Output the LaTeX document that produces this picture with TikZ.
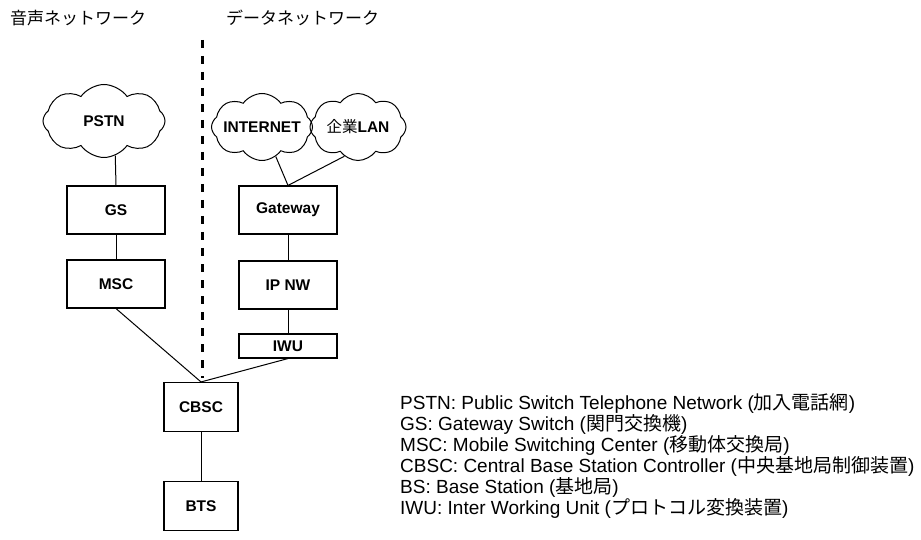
\documentclass[tikz,border=0pt]{standalone}
\usepackage{fontspec}
\setmainfont{Liberation Sans}
\newfontfamily\jp{Noto Sans CJK JP}
\usetikzlibrary{shapes.symbols,positioning}

\begin{document}
\begin{tikzpicture}[x=1pt,y=-1pt,
box/.style={draw,line width=1.1pt,minimum width=98pt,minimum height=48pt,inner sep=0pt,font=\fontsize{15.5}{18}\selectfont\bfseries},
net/.style={cloud,draw,line width=1pt,cloud puffs=8,cloud puff arc=110,cloud ignores aspect,inner xsep=-16pt,inner ysep=-4pt,font=\fontsize{15.5}{18}\selectfont\bfseries},
link/.style={line width=1pt},
legend/.style={anchor=base west,inner sep=0pt,font=\fontsize{19}{22}\selectfont},
title/.style={anchor=west,inner sep=0pt,font=\fontsize{17}{20}\selectfont\jp}]
\useasboundingbox (0,0) rectangle (921,540);

% titles and divider
\node[title] (voice) at (10,18) {音声ネットワーク};
\node[title] (data) at (226,18) {データネットワーク};
\coordinate (divtop) at (202,40);
\coordinate (divbot) at (202,378);
\draw[line width=3pt,dash pattern=on 8pt off 8pt] (divtop) -- (divbot);

% voice side
\node[net,minimum width=122pt,minimum height=73pt] (PSTN) at (104,121) {PSTN};
\node[box] (GS) at (116,210) {GS};
\node[box] (MSC) at (116,284) {MSC};

% data side
\node[net,minimum width=101pt,minimum height=67pt] (INET) at (262,127) {INTERNET};
\node[net,minimum width=96pt,minimum height=67pt] (LAN) at (358,127) {{\jp\mdseries 企業}LAN};
\node[box] (GW) at (288,210) {Gateway};
\node[box] (IPNW) at (288,285) {IP NW};
\node[box,minimum height=24pt] (IWU) at (288,346) {IWU};

% radio side
\node[box,minimum width=74pt,minimum height=49pt] (CBSC) at (201,407) {CBSC};
\node[box,minimum width=74pt,minimum height=49pt] (BTS) at (201,506) {BTS};

\draw[link] (PSTN.-72) -- (GS.north);
\draw[link] (GS) -- (MSC);
\draw[link] (INET.-65) -- (GW.north);
\draw[link] (LAN.-115) -- (GW.north);
\draw[link] (GW) -- (IPNW);
\draw[link] (IPNW) -- (IWU);
\draw[link] (MSC.south) -- (CBSC.north);
\draw[link] (IWU.south) -- (CBSC.north);
\draw[link] (CBSC) -- (BTS);

% legend
\node[legend] (leg1) at (400,409) {PSTN: Public Switch Telephone Network ({\jp 加入電話網})};
\node[legend] (leg2) at (400,430) {GS: Gateway Switch ({\jp 関門交換機})};
\node[legend] (leg3) at (400,451) {MSC: Mobile Switching Center ({\jp 移動体交換局})};
\node[legend] (leg4) at (400,472) {CBSC: Central Base Station Controller ({\jp 中央基地局制御装置})};
\node[legend] (leg5) at (400,493) {BS: Base Station ({\jp 基地局})};
\node[legend] (leg6) at (400,514) {IWU: Inter Working Unit ({\jp プロトコル変換装置})};
\end{tikzpicture}
\end{document}
